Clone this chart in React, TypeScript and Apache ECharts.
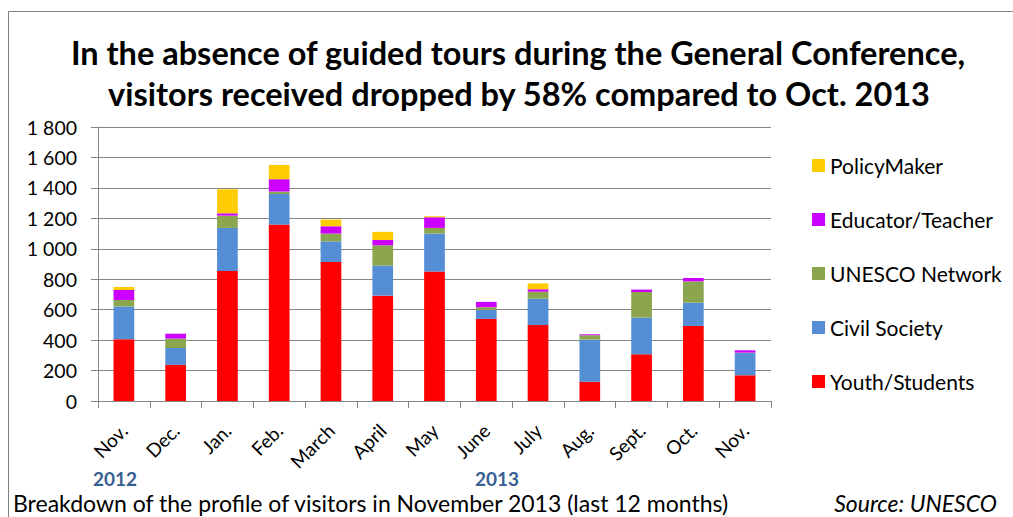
import React, { useEffect, useRef } from "react";
import * as echarts from "echarts";

const months = ["Nov.", "Dec.", "Jan.", "Feb.", "March", "April", "May", "June", "July", "Aug.", "Sept.", "Oct.", "Nov."];
const youth = [405, 237, 854, 1159, 913, 692, 850, 539, 499, 127, 307, 493, 169];
const civil = [215, 111, 283, 201, 136, 197, 250, 59, 173, 276, 241, 153, 146];
const unesco = [44, 62, 81, 16, 51, 134, 37, 18, 46, 29, 168, 140, 3];
const educator = [65, 32, 15, 81, 48, 35, 70, 35, 16, 6, 16, 22, 15];
const policy = [20, 0, 158, 94, 44, 53, 7, 0, 39, 0, 0, 0, 0];
const seriesNames = ["Youth/Students", "Civil Society", "UNESCO Network", "Educator/Teacher", "PolicyMaker"];
const seriesColors = ["#FF0000", "#558ED5", "#8BA64F", "#CC00FF", "#FFCC00"];
const titleLines = [
  "In the absence of guided tours during the General Conference,",
  "visitors received dropped by 58% compared to Oct. 2013",
];
const yearLabels = ["2012", "2013"];
const footnote = "Breakdown of the profile of visitors in November 2013 (last 12 months)";
const source = "Source: UNESCO";

const FONT = "Lato, 'Open Sans', sans-serif";

export default function App() {
  const ref = useRef<HTMLDivElement>(null);
  useEffect(() => {
    document.body.style.margin = "0";
    const chart = echarts.init(ref.current!, null, { renderer: "svg" });
    const data = [youth, civil, unesco, educator, policy];
    chart.setOption({
      animation: false,
      backgroundColor: "#ffffff",
      textStyle: { fontFamily: FONT },
      grid: { left: 98, right: 242, top: 127, bottom: 116 },
      legend: {
        orient: "vertical",
        left: 807,
        top: 150,
        itemWidth: 13,
        itemHeight: 13,
        itemGap: 33,
        icon: "rect",
        data: [...seriesNames].reverse(),
        textStyle: { fontSize: 21, color: "#000", fontFamily: FONT },
      },
      xAxis: {
        type: "category",
        data: months,
        axisLine: { lineStyle: { color: "#868686", width: 1 } },
        axisTick: { show: true, length: 7, lineStyle: { color: "#868686" } },
        axisLabel: { rotate: 45, fontSize: 19, color: "#000", margin: 26, fontFamily: FONT, interval: 0 },
      },
      yAxis: {
        type: "value",
        min: 0,
        max: 1800,
        interval: 200,
        axisLine: { show: true, lineStyle: { color: "#868686", width: 1 } },
        axisTick: { show: true, length: 7, lineStyle: { color: "#868686" } },
        splitLine: { lineStyle: { color: "#868686", width: 1 } },
        axisLabel: {
          fontSize: 19.5,
          color: "#000",
          margin: 21,
          fontFamily: FONT,
          formatter: (v: number) => String(v).replace(/\B(?=(\d{3})+(?!\d))/g, " "),
        },
      },
      series: seriesNames.map((name, i) => ({
        name,
        type: "bar",
        stack: "total",
        barWidth: "40%",
        data: data[i],
        itemStyle: { color: seriesColors[i] },
      })),
      graphic: [
        {
          type: "polyline",
          shape: { points: [[8.5, 517], [8.5, 11.5], [1013, 11.5]] },
          style: { stroke: "#808080", lineWidth: 1, fill: "none" },
        },
        {
          type: "text",
          x: 518,
          y: 52,
          style: { text: titleLines[0], font: `bold 32.5px ${FONT}`, fill: "#000", textAlign: "center", textVerticalAlign: "middle" },
        },
        {
          type: "text",
          x: 519,
          y: 93,
          style: { text: titleLines[1], font: `bold 32.5px ${FONT}`, fill: "#000", textAlign: "center", textVerticalAlign: "middle" },
        },
        {
          type: "text",
          x: 115,
          y: 478,
          style: { text: yearLabels[0], font: `bold 19px ${FONT}`, fill: "#376092", textAlign: "center", textVerticalAlign: "middle" },
        },
        {
          type: "text",
          x: 497,
          y: 478,
          style: { text: yearLabels[1], font: `bold 19px ${FONT}`, fill: "#376092", textAlign: "center", textVerticalAlign: "middle" },
        },
        {
          type: "text",
          x: 13,
          y: 503,
          style: { text: footnote, font: `23px ${FONT}`, fill: "#000", textAlign: "left", textVerticalAlign: "middle" },
        },
        {
          type: "text",
          x: 997,
          y: 503,
          style: { text: source, font: `italic 23px ${FONT}`, fill: "#000", textAlign: "right", textVerticalAlign: "middle" },
        },
      ],
    });
    return () => chart.dispose();
  }, []);
  return <div ref={ref} style={{ width: 1013, height: 517, position: "absolute", left: 0, top: 0 }} />;
}
